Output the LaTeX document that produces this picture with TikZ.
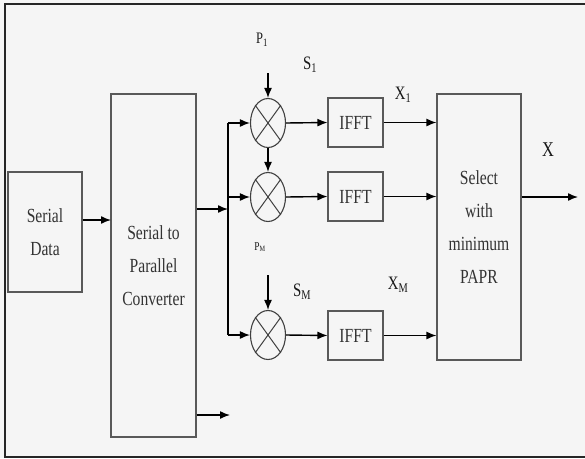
\documentclass[tikz,border=0pt]{standalone}
\usepackage{fontspec}
\usepackage{graphicx}
\setmainfont{Liberation Serif}
\usetikzlibrary{shapes.geometric,arrows.meta}
\newcommand{\sqz}[1]{\scalebox{0.78}[1]{#1}}
\tikzset{
  box/.style={draw=black!65, line width=1.1pt, inner sep=0pt, text=black!80, align=center, font=\fontsize{20}{33}\selectfont},
  mult/.style={ellipse, draw=black!75, line width=1.1pt, minimum width=35pt, minimum height=49pt, inner sep=0pt},
  arr/.style={line width=1.4pt, -{Latex[length=10pt,width=8pt]}},
  lbl/.style={inner sep=0pt, text=black!90},
}
\begin{document}
\begin{tikzpicture}[x=1pt,y=-1pt]
\useasboundingbox (0,0) rectangle (585,458);
\fill[black!4] (0,0) rectangle (585,458);
\draw[black!85, line width=2pt] (585,4) -- (5,4) -- (5,457) -- (585,457);

% blocks
\node[box, minimum width=74pt, minimum height=120pt] (sd) at (45,232) {\sqz{Serial}\\\sqz{Data}};
\node[box, minimum width=85pt, minimum height=343pt] (sp) at (153.5,265.5) {\sqz{Serial to}\\\sqz{Parallel}\\\sqz{Converter}};
\node[mult] (m1) at (268,123) {};
\node[mult] (m2) at (268,197) {};
\node[mult] (m3) at (268,335) {};
\foreach \m in {m1,m2,m3}{
  \draw[black!75, line width=1pt] (\m.north west) -- (\m.south east);
  \draw[black!75, line width=1pt] (\m.north east) -- (\m.south west);
}
\node[box, minimum width=55pt, minimum height=49pt] (f1) at (355.5,122.5) {\sqz{IFFT}};
\node[box, minimum width=55pt, minimum height=49pt] (f2) at (355.5,196.5) {\sqz{IFFT}};
\node[box, minimum width=55pt, minimum height=49pt] (f3) at (355.5,335.5) {\sqz{IFFT}};
\node[box, minimum width=84pt, minimum height=266pt] (sel) at (479,227) {\sqz{Select}\\\sqz{with}\\\sqz{minimum}\\\sqz{PAPR}};

% labels
\node[lbl, font=\fontsize{16}{16}\selectfont] (p1) at (262,40) {\sqz{P\textsubscript{1}}};
\node[lbl, font=\fontsize{19}{19}\selectfont] (s1) at (310,65) {\sqz{S\textsubscript{1}}};
\node[lbl, font=\fontsize{19}{19}\selectfont] (x1) at (403,95) {\sqz{X\textsubscript{1}}};
\node[lbl, font=\fontsize{12}{12}\selectfont] (pm) at (260,247) {\sqz{P\textsubscript{M}}};
\node[lbl, font=\fontsize{19}{19}\selectfont] (sm) at (302,292) {\sqz{S\textsubscript{M}}};
\node[lbl, font=\fontsize{19}{19}\selectfont] (xm) at (398,285) {\sqz{X\textsubscript{M}}};
\node[lbl, font=\fontsize{21}{21}\selectfont] (xl) at (548,150) {\sqz{X}};

% coordinates
\coordinate (sdin) at (111,220);
\coordinate (bus) at (228,209);
\coordinate (b1) at (228,123);
\coordinate (b2) at (228,197);
\coordinate (b3) at (228,335);
\coordinate (sout) at (230,415);
\coordinate (in1) at (268,73);
\coordinate (in3) at (268,275);
\coordinate (xo) at (578,197);

% connectors
\draw[arr] (sd.east |- sdin) -- (sdin);
\draw[arr] (sp.east |- bus) -- (bus);
\draw[line width=1.4pt] (b1) -- (b3);
\draw[arr] (b1) -- (m1.west);
\draw[arr] (b2) -- (m2.west);
\draw[arr] (b3) -- (m3.west);
\draw[arr] (sp.east |- sout) -- (sout);
\draw[arr] (in1) -- (m1.north);
\draw[arr] (m1.south) -- (m2.north);
\draw[arr] (in3) -- (m3.north);
\draw[arr] (m1.east) -- (f1.west);
\draw[arr] (m2.east) -- (f2.west);
\draw[arr] (m3.east) -- (f3.west);
\draw[arr] (f1.east) -- (f1.east -| sel.west);
\draw[arr] (f2.east) -- (f2.east -| sel.west);
\draw[arr] (f3.east) -- (f3.east -| sel.west);
\draw[arr] (sel.east |- xo) -- (xo);
\end{tikzpicture}
\end{document}
